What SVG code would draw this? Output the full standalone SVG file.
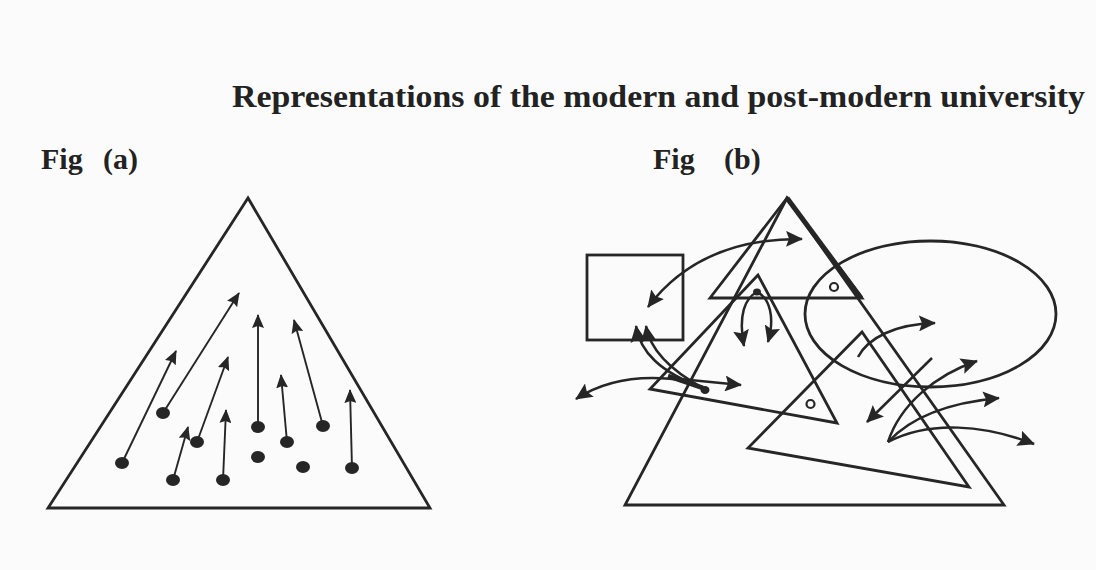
<svg xmlns="http://www.w3.org/2000/svg" width="1096" height="570" viewBox="0 0 1096 570">
<defs>
<style>
.ttl{font-family:"Liberation Serif","Times New Roman",serif;font-weight:bold;fill:#222}
.s{fill:none;stroke:#262626;stroke-width:2.8;stroke-linejoin:miter}
.a{fill:none;stroke:#262626;stroke-width:1.9}
.aw{fill:none;stroke:#262626;stroke-width:2.5}
.dot{fill:#262626}
</style>
<marker id="ah" viewBox="0 0 14 12" refX="13" refY="6" markerWidth="14" markerHeight="12" markerUnits="userSpaceOnUse" orient="auto-start-reverse">
<path d="M0,0 L14,6 L0,12 L2,6 z" fill="#262626"/>
</marker>
<marker id="ahb" viewBox="0 0 17 16" refX="16" refY="8" markerWidth="17" markerHeight="16" markerUnits="userSpaceOnUse" orient="auto-start-reverse">
<path d="M0,0 L17,8 L0,16 L3,8 z" fill="#262626"/>
</marker>
</defs>
<rect width="1096" height="570" fill="#fbfbfb"/>

<text class="ttl" x="232" y="107" font-size="31" textLength="853" lengthAdjust="spacingAndGlyphs">Representations of the modern and post-modern university</text>

<g id="fig-a-label">
<text class="ttl" x="41" y="169" font-size="30">Fig</text>
<text class="ttl" x="103" y="169" font-size="30">(a)</text>
</g>
<g id="fig-b-label">
<text class="ttl" x="653" y="169" font-size="30">Fig</text>
<text class="ttl" x="724" y="169" font-size="30">(b)</text>
</g>

<!-- Fig (a) -->
<g id="fig-a-triangle">
<polygon class="s" points="248,198 48,508 430,508"/>
</g>
<g id="fig-a-dots">
<ellipse class="dot" cx="122" cy="463" rx="7" ry="6"/>
<ellipse class="dot" cx="163" cy="413" rx="7" ry="6"/>
<ellipse class="dot" cx="197" cy="442" rx="7" ry="6"/>
<ellipse class="dot" cx="173" cy="480" rx="7" ry="6"/>
<ellipse class="dot" cx="223" cy="480" rx="7" ry="6"/>
<ellipse class="dot" cx="258" cy="427" rx="7" ry="6"/>
<ellipse class="dot" cx="287" cy="442" rx="7" ry="6"/>
<ellipse class="dot" cx="323" cy="426" rx="7" ry="6"/>
<ellipse class="dot" cx="352" cy="468" rx="7" ry="6"/>
<ellipse class="dot" cx="258" cy="457" rx="7" ry="6"/>
<ellipse class="dot" cx="303" cy="467" rx="7" ry="6"/>
</g>
<g id="fig-a-connectors" marker-end="url(#ah)">
<line class="a" x1="122" y1="463" x2="176" y2="351"/>
<line class="a" x1="163" y1="413" x2="239" y2="293"/>
<line class="a" x1="197" y1="442" x2="228" y2="357"/>
<line class="a" x1="173" y1="480" x2="188" y2="427"/>
<line class="a" x1="223" y1="480" x2="226" y2="410"/>
<line class="a" x1="258" y1="427" x2="258" y2="315"/>
<line class="a" x1="287" y1="442" x2="281" y2="375"/>
<line class="a" x1="323" y1="426" x2="294" y2="320"/>
<line class="a" x1="352" y1="468" x2="350" y2="390"/>
</g>

<!-- Fig (b) -->
<g id="fig-b-big-triangle">
<polygon class="s" points="787,198 625,505 1004,505"/>
</g>
<g id="fig-b-top-triangle">
<polygon class="s" points="787,198 710,298 862,298"/>
<line x1="787" y1="198" x2="861" y2="298" stroke="#262626" stroke-width="5"/>
<circle cx="834" cy="287" r="4" fill="none" stroke="#262626" stroke-width="2.2"/>
</g>
<g id="fig-b-rect">
<rect class="s" x="587" y="255" width="96" height="85"/>
</g>
<g id="fig-b-ellipse">
<ellipse class="s" cx="930.5" cy="314" rx="125.5" ry="73"/>
</g>
<g id="fig-b-mid-triangle">
<polygon class="s" points="758,275 650,389 837,423"/>
<circle cx="810.5" cy="404" r="4" fill="none" stroke="#262626" stroke-width="2.2"/>
</g>
<g id="fig-b-low-triangle">
<polygon class="s" points="862,332 748,448 969,487"/>
</g>

<g id="fig-b-connectors">
<path class="aw" d="M648,307 Q700,238 802,239" marker-start="url(#ahb)" marker-end="url(#ahb)"/>
<ellipse class="dot" cx="757" cy="292" rx="4" ry="3.5"/>
<path class="aw" d="M757,292 C745,298 738,315 744,346" marker-end="url(#ahb)"/>
<path class="aw" d="M757,292 C770,298 775,318 768,342" marker-end="url(#ahb)"/>
<path class="aw" d="M636,326 C640,352 660,372 703,388" marker-start="url(#ahb)"/>
<path class="aw" d="M646,326 C650,350 670,370 703,388" marker-start="url(#ahb)"/>
<path d="M668,376 L703,388" stroke="#262626" stroke-width="4.5"/>
<ellipse class="dot" cx="705" cy="390" rx="4.5" ry="4"/>
<path class="aw" d="M680,379 L741,385" marker-end="url(#ahb)"/>
<path class="aw" d="M688,381 Q620,370 576,399" marker-end="url(#ahb)"/>
<path class="aw" d="M858,357 C868,338 895,324 935,323" marker-end="url(#ahb)"/>
<path class="aw" d="M932,358 L867,422" marker-end="url(#ahb)"/>
<path class="aw" d="M888,442 C900,405 935,375 977,361" marker-end="url(#ahb)"/>
<path class="aw" d="M888,442 C910,418 945,403 999,398" marker-end="url(#ahb)"/>
<path class="aw" d="M888,442 C930,420 985,425 1034,444" marker-end="url(#ahb)"/>
</g>
</svg>
